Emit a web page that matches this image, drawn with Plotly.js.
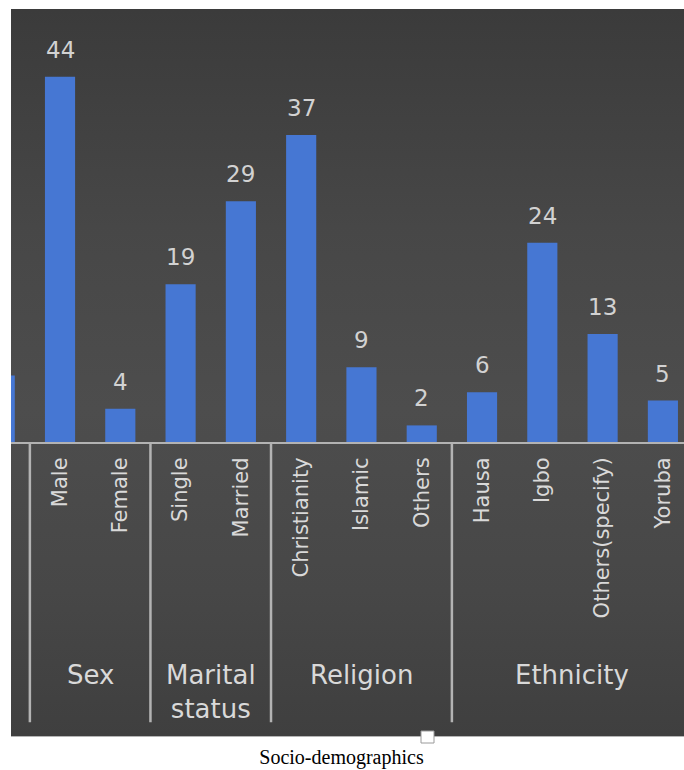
<!DOCTYPE html>
<html>
<head>
<meta charset="utf-8">
<script src="https://cdn.plot.ly/plotly-3.0.1.min.js"></script>
<style>
  html, body { margin: 0; padding: 0; background: #ffffff; }
  #wrap { position: relative; width: 684px; height: 770px; overflow: hidden; }
  #bg {
    position: absolute; left: 11px; top: 9px; width: 673px; height: 727px;
    background: linear-gradient(to bottom, #3b3b3b 0%, #474747 30%, #4d4d4d 55%, #474747 80%, #3f3f3f 100%);
    border-bottom: 1px solid #b5b5b5;
  }
  #chart { position: absolute; left: 0; top: 0; width: 684px; height: 770px; }
</style>
</head>
<body>
<div id="wrap">
  <div id="bg"></div>
  <div id="chart"></div>
</div>
<script>
// ---- data ----
// first category belongs to a previous group and is cut off at the left edge
const categories = ['Age (cut off)', 'Male', 'Female', 'Single', 'Married', 'Christianity', 'Islamic', 'Others', 'Hausa', 'Igbo', 'Others(specify)', 'Yoruba'];
const groupOf = ['Age', 'Sex', 'Sex', 'Marital status', 'Marital status', 'Religion', 'Religion', 'Religion', 'Ethnicity', 'Ethnicity', 'Ethnicity', 'Ethnicity'];
const counts = [8, 44, 4, 19, 29, 37, 9, 2, 6, 24, 13, 5];
const groupNames = ['Age', 'Sex', 'Marital status', 'Religion', 'Ethnicity'];
const groupDisplay = ['Age', 'Sex', 'Marital<br>status', 'Religion', 'Ethnicity'];
const chartTitle = 'Socio-demographics';

// ---- view ----
const xRange = [0.187, 11.35];
const yRange = [0, 52.17];
const labelColor = '#d9d9d9';
const lineColor = '#b3b3b3';
const barColor = '#4677d3';

const annotations = [];
const shapes = [];

// value labels (only for bars whose centre is inside the view)
categories.forEach((c, i) => {
  if (i > xRange[0] + 0.3 && i < xRange[1]) {
    annotations.push({
      x: c, y: counts[i], xref: 'x', yref: 'y',
      text: String(counts[i]), showarrow: false,
      yanchor: 'bottom', yshift: 12,
      font: {family: 'DejaVu Sans', size: 23, color: '#d2d2d2'}
    });
  }
});

// group labels and dividers
groupNames.forEach((g, k) => {
  const idx = [];
  groupOf.forEach((gg, i) => { if (gg === g) idx.push(i); });
  const start = Math.min(...idx), end = Math.max(...idx);
  const centre = (start + end) / 2;
  if (centre > xRange[0] && centre < xRange[1]) {
    annotations.push({
      x: centre, y: -0.499, xref: 'x', yref: 'paper',
      text: groupDisplay[k], showarrow: false, yanchor: 'top',
      font: {family: 'DejaVu Sans', size: 26, color: labelColor}
    });
  }
  const b = end + 0.5;
  if (b > xRange[0] && b < xRange[1]) {
    shapes.push({
      type: 'line', xref: 'x', yref: 'paper', x0: b, x1: b, y0: 0, y1: -0.647,
      line: {color: lineColor, width: 2.5}
    });
  }
});

// small white handle on the bottom frame edge
shapes.push({
  type: 'rect', xref: 'paper', yref: 'paper',
  x0: (421 - 11) / 673, x1: (434 - 11) / 673,
  y0: -(743 - 442) / 433, y1: -(731 - 442) / 433,
  fillcolor: '#ffffff', line: {color: '#9a9a9a', width: 1}
});

const trace = {
  type: 'bar',
  x: categories,
  y: counts,
  width: 0.5,
  marker: {color: barColor, line: {width: 0}},
  hoverinfo: 'x+y',
  cliponaxis: true
};

const layout = {
  width: 684, height: 770,
  margin: {l: 11, r: 0, t: 9, b: 328, pad: 0},
  paper_bgcolor: 'rgba(0,0,0,0)',
  plot_bgcolor: 'rgba(0,0,0,0)',
  showlegend: false,
  title: {
    text: chartTitle, xref: 'container', yref: 'container',
    x: 341.5 / 684, y: 1 - 757 / 770, xanchor: 'center', yanchor: 'middle',
    font: {family: 'Liberation Serif', size: 20, color: '#000000'}
  },
  xaxis: {
    type: 'category', range: xRange, autorange: false,
    tickangle: -90, ticks: '', showgrid: false, zeroline: false,
    showline: true, linecolor: lineColor, linewidth: 2,
    tickfont: {family: 'DejaVu Sans', size: 21, color: labelColor},
    ticklabelstandoff: 5, automargin: false, fixedrange: true
  },
  yaxis: {
    range: yRange, autorange: false, visible: false,
    showgrid: false, zeroline: false, fixedrange: true
  },
  annotations: annotations,
  shapes: shapes
};

Plotly.newPlot('chart', [trace], layout, {displayModeBar: false, staticPlot: true});
</script>
</body>
</html>
